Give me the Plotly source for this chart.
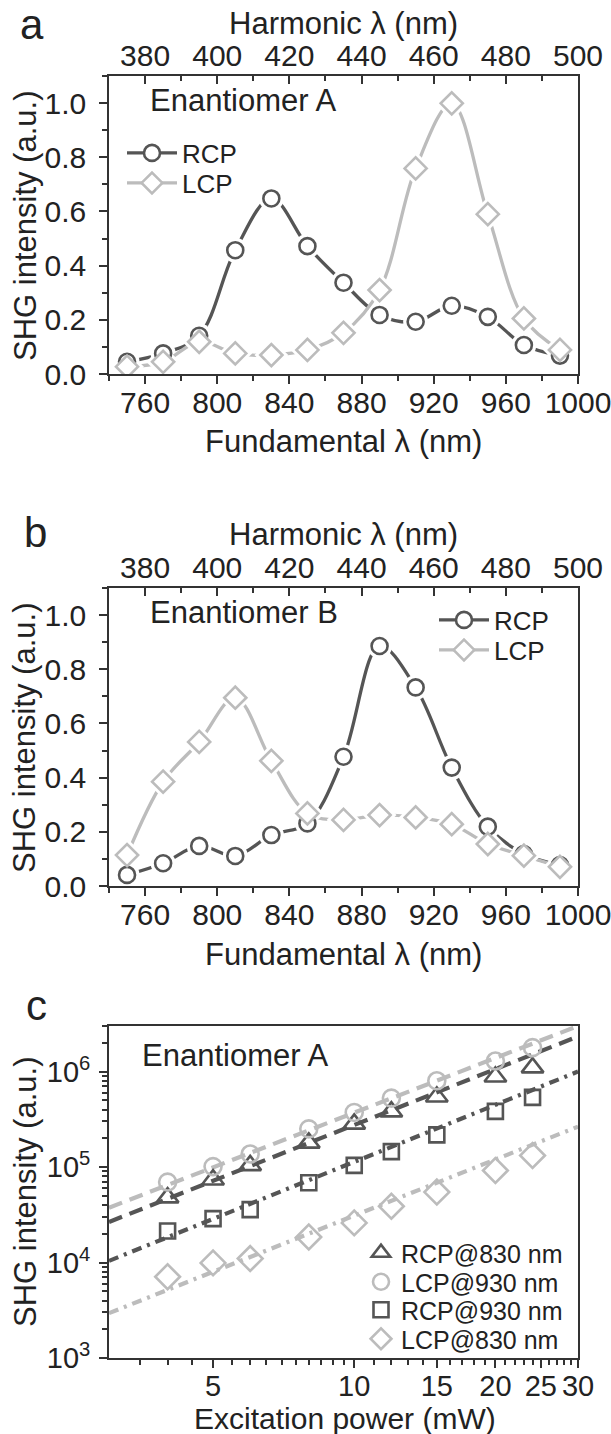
import plotly.graph_objects as go

W, H = 611, 1434

# ---------------- data ----------------
fund_nm = [750, 770, 790, 810, 830, 850, 870, 890, 910, 930, 950, 970, 990]
a_rcp = [0.045, 0.076, 0.141, 0.457, 0.648, 0.472, 0.337, 0.218, 0.193, 0.252, 0.211, 0.107, 0.068]
a_lcp = [0.027, 0.045, 0.119, 0.076, 0.070, 0.089, 0.152, 0.310, 0.759, 0.999, 0.590, 0.205, 0.089]
b_rcp = [0.041, 0.084, 0.148, 0.111, 0.188, 0.231, 0.477, 0.886, 0.733, 0.437, 0.219, 0.118, 0.077]
b_lcp = [0.114, 0.385, 0.532, 0.695, 0.462, 0.268, 0.244, 0.262, 0.253, 0.228, 0.155, 0.112, 0.071]

power_mw = [4, 5, 6, 8, 10, 12, 15, 20, 24]
c_rcp830 = [4.78e4, 7.37e4, 1.04e5, 1.79e5, 2.83e5, 3.80e5, 5.44e5, 8.81e5, 1.10e6]
c_lcp930 = [6.95e4, 1.01e5, 1.37e5, 2.51e5, 3.73e5, 5.27e5, 8.00e5, 1.29e6, 1.78e6]
c_rcp930 = [2.14e4, 2.88e4, 3.58e4, 6.85e4, 1.04e5, 1.45e5, 2.17e5, 3.83e5, 5.36e5]
c_lcp830 = [7.1e3, 9.9e3, 1.10e4, 1.85e4, 2.60e4, 3.88e4, 5.47e4, 9.2e4, 1.32e5]

fit_power = [3, 30]
fit_lcp930 = [3.75e4, 3.0e6]
fit_rcp830 = [2.66e4, 2.33e6]
fit_rcp930 = [1.04e4, 1.0e6]
fit_lcp830 = [2.95e3, 2.65e5]

fund_ticks = [760, 800, 840, 880, 920, 960, 1000]
harm_labels = ["380", "400", "420", "440", "460", "480", "500"]
int_ticks = [0.0, 0.2, 0.4, 0.6, 0.8, 1.0]
power_ticks = [5, 10, 15, 20, 25, 30]
power_labels = ["5", "10", "15", "20", "25", "30"]
log_ticks = [1e3, 1e4, 1e5, 1e6]
log_labels = ["10<sup>3</sup>", "10<sup>4</sup>", "10<sup>5</sup>", "10<sup>6</sup>"]

# ---------------- style ----------------
DARK = "#555555"
LIGHT = "#bcbcbc"
AXC = "#333333"
TXT = "#222222"
FONT = "Arial, Liberation Sans, sans-serif"
TICKF = 30
TITF = 31


def px(x):
    return x / W


def py(y):
    return 1 - y / H


# plot-area pixel boxes (left, right, top, bottom)
XL, XR = 109, 578
A_T, A_B = 76, 374
B_T, B_B = 588, 886
C_T, C_B = 1026, 1358

fig = go.Figure()


def spectrum(xa, ya, top, rcp, lcp, leg1, leg2):
    series = [(rcp, DARK, "circle", 16, "RCP", leg1), (lcp, LIGHT, "diamond", 17, "LCP", leg2)]
    for vals, col, sym, ms, name, lg in series:
        fig.add_trace(go.Scatter(x=fund_nm, y=vals, mode="lines", xaxis=xa, yaxis=ya,
                                 line=dict(color=col, width=3.3, shape="spline"),
                                 showlegend=False, hoverinfo="skip"))
        fig.add_trace(go.Scatter(x=fund_nm, y=vals, mode="markers", xaxis=xa, yaxis=ya,
                                 marker=dict(symbol=sym, size=ms + 9, color="white",
                                             line=dict(width=0)),
                                 showlegend=False, hoverinfo="skip"))
    for vals, col, sym, ms, name, lg in series:
        fig.add_trace(go.Scatter(x=fund_nm, y=vals, mode="markers", xaxis=xa, yaxis=ya,
                                 marker=dict(symbol=sym, size=ms, color="white",
                                             line=dict(width=2.6, color=col)),
                                 showlegend=False, name=name))
        fig.add_trace(go.Scatter(x=[None], y=[None], mode="lines+markers", xaxis=xa, yaxis=ya,
                                 line=dict(color=col, width=3.3),
                                 marker=dict(symbol=sym, size=ms, color="white",
                                             line=dict(width=2.6, color=col)),
                                 name=name, legend=lg, showlegend=True))
    # invisible trace to carry the top (harmonic) axis
    fig.add_trace(go.Scatter(x=fund_nm, y=rcp, mode="markers", xaxis=top, yaxis=ya,
                             marker=dict(opacity=0), showlegend=False, hoverinfo="skip"))


spectrum("x", "y", "x4", a_rcp, a_lcp, "legend", "legend2")
spectrum("x2", "y2", "x5", b_rcp, b_lcp, "legend3", "legend4")

# panel c fit lines
for vals, col, dash in [(fit_lcp930, LIGHT, "14px,8px"), (fit_rcp830, DARK, "14px,8px"),
                        (fit_rcp930, DARK, "10px,6px,3px,6px"), (fit_lcp830, LIGHT, "10px,6px,3px,6px")]:
    fig.add_trace(go.Scatter(x=fit_power, y=vals, mode="lines", xaxis="x3", yaxis="y3",
                             line=dict(color=col, width=4.2, dash=dash),
                             showlegend=False, hoverinfo="skip"))

for vals, col, sym, ms, name, lg in [
        (c_rcp830, DARK, "triangle-up-open", 19, "RCP@830 nm", "legend5"),
        (c_lcp930, LIGHT, "circle-open", 17, "LCP@930 nm", "legend6"),
        (c_rcp930, DARK, "square-open", 15, "RCP@930 nm", "legend7"),
        (c_lcp830, LIGHT, "diamond-open", 19, "LCP@830 nm", "legend8")]:
    fig.add_trace(go.Scatter(x=power_mw, y=vals, mode="markers", xaxis="x3", yaxis="y3",
                             marker=dict(symbol=sym, size=ms, color=col, line=dict(width=2.6)),
                             name=name, legend=lg, showlegend=True))

tickfont = dict(family=FONT, size=TICKF, color=TXT)
common = dict(showline=True, linecolor=AXC, linewidth=1.6, showgrid=False, zeroline=False,
              tickfont=tickfont, tickcolor=AXC, tickwidth=1.6, automargin=False,
              ticklabeloverflow="allow")

xlin = dict(range=[740, 1000], tickmode="array", tickvals=fund_ticks, ticks="outside", ticklen=8,
            ticklabelstandoff=-7,
            minor=dict(ticks="outside", dtick=20, tick0=740, ticklen=5, tickcolor=AXC, tickwidth=1.6),
            mirror=True, **common)
ylin = dict(range=[0, 1.1], tickmode="array", tickvals=int_ticks, tickformat=".1f", ticks="outside",
            ticklen=8, ticklabelstandoff=7,
            minor=dict(ticks="outside", dtick=0.1, tick0=0, ticklen=5, tickcolor=AXC, tickwidth=1.6),
            mirror=True, **common)
xtop = dict(range=[740, 1000], tickmode="array", tickvals=fund_ticks, ticktext=harm_labels,
            side="top", ticks="inside", ticklen=8, ticklabelstandoff=-4,
            minor=dict(ticks="inside", dtick=20, tick0=740, ticklen=5, tickcolor=AXC, tickwidth=1.6),
            **common)

c_common = dict(common)
c_common["tickfont"] = dict(family=FONT, size=29, color=TXT)

fig.update_layout(
    xaxis=dict(domain=[px(XL), px(XR)], anchor="y", **xlin),
    yaxis=dict(domain=[py(A_B), py(A_T)], anchor="x", **ylin),
    xaxis4=dict(overlaying="x", anchor="y", **xtop),
    xaxis2=dict(domain=[px(XL), px(XR)], anchor="y2", **xlin),
    yaxis2=dict(domain=[py(B_B), py(B_T)], anchor="x2", **ylin),
    xaxis5=dict(overlaying="x2", anchor="y2", **xtop),
    xaxis3=dict(domain=[px(XL), px(XR)], anchor="y3", type="log", range=[0.47712, 1.47712],
                tickmode="array", tickvals=power_ticks, ticktext=power_labels, ticks="outside",
                ticklen=8, ticklabelstandoff=-7, mirror=True,
                minor=dict(ticks="outside", ticklen=5, tickcolor=AXC, tickwidth=1.6,
                           tickmode="array",
                           tickvals=[3.5, 4, 4.5, 5.5, 6, 6.5, 7, 7.5, 8, 8.5, 9, 9.5] +
                                    [11, 12, 13, 14, 16, 17, 18, 19, 21, 22, 23, 24, 26, 27, 28, 29]),
                **c_common),
    yaxis3=dict(domain=[py(C_B), py(C_T)], anchor="x3", type="log", range=[3, 6.477],
                tickmode="array", tickvals=log_ticks, ticktext=log_labels, ticks="outside",
                ticklen=8, ticklabelstandoff=3, mirror=True,
                minor=dict(ticks="outside", ticklen=5, tickcolor=AXC, tickwidth=1.6,
                           tickmode="array",
                           tickvals=[m * 10 ** e for e in (3, 4, 5) for m in range(2, 10)] +
                                    [2e6, 3e6]),
                **c_common),
)


# legends
def leg(xpx, ypx, size, iw=50):
    return dict(x=px(xpx), y=py(ypx), xanchor="left", yanchor="middle", bgcolor="rgba(0,0,0,0)",
                borderwidth=0, font=dict(family=FONT, size=size, color=TXT), itemwidth=iw,
                tracegroupgap=0, itemclick=False, itemdoubleclick=False)


fig.update_layout(
    legend=leg(122, 153, 26), legend2=leg(122, 183, 26),
    legend3=leg(434, 620, 26), legend4=leg(434, 650, 26),
    legend5=leg(361, 1253, 25, 30), legend6=leg(361, 1282, 25, 30),
    legend7=leg(361, 1310, 25, 30), legend8=leg(361, 1339, 25, 30),
)

ann = []


def text(x, y, s, size, angle=0, xanchor="center"):
    ann.append(dict(x=px(x), y=py(y), xref="paper", yref="paper", text=s, showarrow=False,
                    textangle=angle, xanchor=xanchor, yanchor="middle",
                    font=dict(family=FONT, size=size, color=TXT)))


# panel a
text(32, 24, "a", 42)
text(343, 23, "Harmonic λ (nm)", TITF)
text(343, 442, "Fundamental λ (nm)", TITF)
text(25, 226, "SHG intensity (a.u.)", TITF, -90)
text(148, 101, "Enantiomer A", TITF, xanchor="left")
# panel b
text(35, 532, "b", 42)
text(343, 535, "Harmonic λ (nm)", TITF)
text(343, 954, "Fundamental λ (nm)", TITF)
text(25, 738, "SHG intensity (a.u.)", TITF, -90)
text(148, 612, "Enantiomer B", TITF, xanchor="left")
# panel c
text(36, 1005, "c", 42)
text(345, 1418, "Excitation power (mW)", 30)
text(25, 1192, "SHG intensity (a.u.)", TITF, -90)
text(140, 1055, "Enantiomer A", TITF, xanchor="left")

fig.update_layout(annotations=ann, width=W, height=H, autosize=False,
                  margin=dict(l=0, r=0, t=0, b=0), paper_bgcolor="white", plot_bgcolor="white",
                  font=dict(family=FONT, color=TXT))

fig.write_html("out.html", config={"displayModeBar": False})
